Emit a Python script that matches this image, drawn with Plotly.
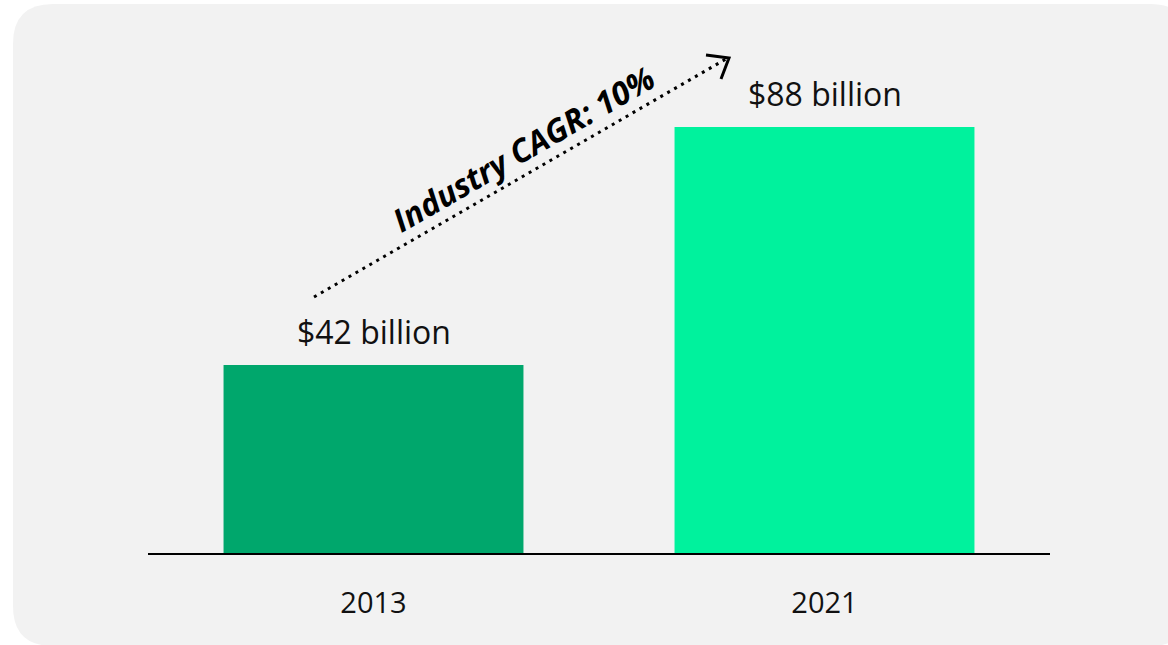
import plotly.graph_objects as go

# ---- data ----
years = ["2013", "2021"]
revenue_bn = [42, 88]
bar_labels = ["$42 billion", "$88 billion"]
bar_colors = ["#00A76C", "#00F29D"]
cagr_label = "Industry CAGR: 10%"

# ---- layout geometry (pixels) ----
W, H = 1168, 645
L, R, T, B = 148, 118, 40, 92
PW, PH = W - L - R, H - T - B


def px(x):
    return (x - L) / PW


def py(y):
    return (H - B - y) / PH


fig = go.Figure()
fig.add_trace(go.Bar(
    x=years, y=revenue_bn, marker=dict(color=bar_colors, line=dict(width=0)),
    width=0.665, hoverinfo="skip",
))

FONT = "Open Sans, Poppins, sans-serif"

annotations = []
for i, (v, lab) in enumerate(zip(revenue_bn, bar_labels)):
    annotations.append(dict(x=i, y=v, xref="x", yref="y", text=lab, showarrow=False,
                            yanchor="middle", yshift=34,
                            font=dict(family=FONT, size=32, color="#111111")))

annotations.append(dict(x=px(523), y=py(148), xref="paper", yref="paper", text=cagr_label,
                        showarrow=False, textangle=-30, xanchor="center", yanchor="middle",
                        font=dict(family=FONT, size=32, color="#000000", weight=700, style="italic")))

# rounded background panel
x0, x1, y0, y1, r = 13, 1190, 4, 646, 40


def rpath(x0, y0, x1, y1, r):
    pts = [
        ("M", [(x0 + r, y0)]),
        ("L", [(x1 - r, y0)]),
        ("Q", [(x1, y0), (x1, y0 + r)]),
        ("L", [(x1, y1 - r)]),
        ("Q", [(x1, y1), (x1 - r, y1)]),
        ("L", [(x0 + r, y1)]),
        ("Q", [(x0, y1), (x0, y1 - r)]),
        ("L", [(x0, y0 + r)]),
        ("Q", [(x0, y0), (x0 + r, y0)]),
    ]
    s = ""
    for cmd, ps in pts:
        s += cmd + " " + " ".join(f"{px(a):.5f},{py(b):.5f}" for a, b in ps) + " "
    return s + "Z"


shapes = [
    dict(type="path", xref="paper", yref="paper", path=rpath(x0, y0, x1, y1, r),
         fillcolor="#F2F2F2", line=dict(width=0), layer="below"),
    dict(type="line", xref="paper", yref="paper", x0=px(314), y0=py(297), x1=px(726), y1=py(59),
         line=dict(color="#000000", width=3, dash="3px,5px")),
    dict(type="path", xref="paper", yref="paper",
         path=f"M {px(706):.5f},{py(55):.5f} L {px(729):.5f},{py(58):.5f} L {px(721):.5f},{py(79):.5f}",
         line=dict(color="#000000", width=3)),
]

fig.update_layout(
    width=W, height=H,
    margin=dict(l=L, r=R, t=T, b=B, pad=0),
    paper_bgcolor="#FFFFFF", plot_bgcolor="rgba(0,0,0,0)",
    showlegend=False,
    annotations=annotations, shapes=shapes,
    xaxis=dict(type="category", range=[-0.5, 1.5], showline=True, linecolor="#000000", linewidth=2,
               ticks="", showgrid=False, zeroline=False, ticklabelstandoff=23,
               tickfont=dict(family=FONT, size=29, color="#111111"), fixedrange=True),
    yaxis=dict(range=[5.664, 104.82], visible=False, showgrid=False, zeroline=False, fixedrange=True),
)

fig.write_html("out.html", config={"displayModeBar": False},
               post_script="document.body.style.margin='0';document.body.style.overflow='hidden';")
